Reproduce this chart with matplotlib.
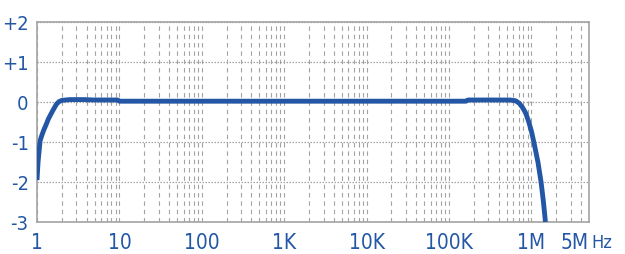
import matplotlib.pyplot as plt
from matplotlib import font_manager
from matplotlib.ticker import FixedLocator, NullFormatter

# frequency response (Hz, dB)
freq = [1.0, 1.03, 1.09, 1.15, 1.22, 1.3, 1.37, 1.46, 1.55, 1.64, 1.73, 1.85, 2.0,
        2.5, 3.0, 3.8, 5.0, 7.0, 9.5, 10.0, 100, 1e3, 1e4, 1e5, 1.6e5, 1.7e5,
        3e5, 5.5e5, 6.45e5, 7.1e5, 7.76e5, 8.5e5, 9.3e5, 1.0e6, 1.07e6, 1.2e6,
        1.31e6, 1.4e6, 1.48e6]
db = [-1.95, -1.5, -0.97, -0.82, -0.68, -0.55, -0.43, -0.32, -0.22, -0.13, -0.05,
      0.01, 0.04, 0.06, 0.06, 0.06, 0.05, 0.05, 0.05, 0.02, 0.02, 0.02, 0.02,
      0.02, 0.02, 0.05, 0.05, 0.05, 0.03, -0.03, -0.13, -0.27, -0.5, -0.73,
      -1.0, -1.5, -2.0, -2.5, -3.0]

xticks = [1, 10, 100, 1e3, 1e4, 1e5, 1e6, 5e6]
xlabels = ["1", "10", "100", "1K", "10K", "100K", "1M", "5M"]
yticks = [-3, -2, -1, 0, 1, 2]
ylabels = ["-3", "-2", "-1", "0", "+1", "+2"]

blue = "#2357a6"
grey = "#a3a3a3"

# narrow face if one is installed, else plain Liberation Sans
narrow = None
for f in font_manager.fontManager.ttflist:
    if f.style != "normal" or f.weight not in (400, "normal", "regular"):
        continue
    if "Narrow" in f.name or "Condensed" in f.name or f.stretch in ("condensed", "semi-condensed", "extra-condensed"):
        narrow = f.fname
        break
if narrow:
    fp = font_manager.FontProperties(fname=narrow, size=15)
    fp_y = font_manager.FontProperties(fname=narrow, size=14.5)
    fp_hz = font_manager.FontProperties(fname=narrow, size=13)
else:
    fp = font_manager.FontProperties(family="Liberation Sans", size=14)
    fp_y = font_manager.FontProperties(family="Liberation Sans", size=13.5)
    fp_hz = font_manager.FontProperties(family="Liberation Sans", size=12)

fig = plt.figure(figsize=(6.25, 2.55), dpi=100)
ax = fig.add_axes([37 / 625, 1 - 223 / 255, 552 / 625, 200 / 255])

ax.plot(freq, db, color=blue, lw=3.5, solid_capstyle="butt", zorder=3)

ax.set_xscale("log")
ax.set_xlim(1, 5e6)
ax.set_ylim(-3, 2)

ax.set_xticks(xticks)
ax.set_xticklabels(xlabels, fontproperties=fp)
minors = [m * 10 ** k for k in range(7) for m in range(2, 10) if m * 10 ** k < 5e6]
ax.xaxis.set_minor_locator(FixedLocator(minors))
ax.xaxis.set_minor_formatter(NullFormatter())
ax.set_yticks(yticks)
ax.set_yticklabels(ylabels, fontproperties=fp_y)
ax.get_xticklabels()[-1].set_horizontalalignment("right")

ax.tick_params(axis="both", which="both", length=0, colors=blue)
ax.tick_params(axis="x", pad=7)
ax.tick_params(axis="y", pad=6)

ax.grid(True, axis="x", which="both", color=grey, lw=0.8, ls=(0, (4, 3.5)))
ax.grid(True, axis="y", which="major", color=grey, lw=0.9, ls=(0, (1.2, 1.2)))

for s in ax.spines.values():
    s.set_color(grey)
    s.set_linewidth(1.2)

fig.canvas.draw()
bb = ax.get_xticklabels()[-1].get_window_extent()
fig.text((bb.x1 + 2) / 625, (bb.y0 + bb.y1) / 2 / 255, "Hz", color=blue,
         fontproperties=fp_hz, va="center", ha="left")

fig.savefig("out.png", dpi=100)
